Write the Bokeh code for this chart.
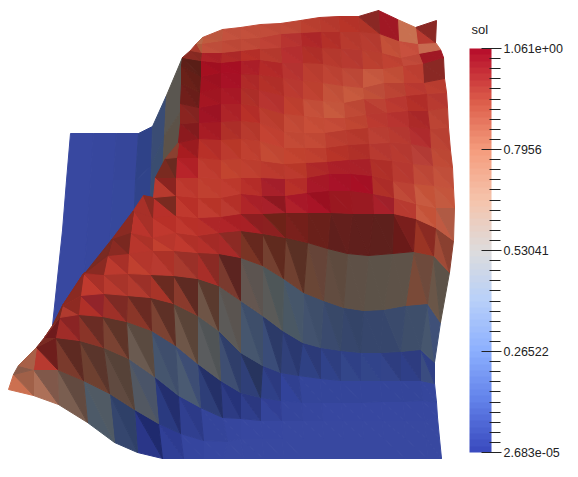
from bokeh.plotting import figure
from bokeh.models import ColumnDataSource, ColorBar, LinearColorMapper, FixedTicker, Label
from bokeh.embed import file_html
from bokeh.resources import INLINE

# ---- colour scale
SOL_MIN = 2.683e-05
SOL_MAX = 1.061
TICK_VALUES = [2.683e-05, 0.26522, 0.53041, 0.7956, 1.061]
TICK_LABELS = ["2.683e-05", "0.26522", "0.53041", "0.7956", "1.061e+00"]
MINOR_VALUES = [0.02652, 0.05305, 0.07957, 0.10609, 0.13261, 0.15913, 0.18566, 0.21218, 0.2387,
                0.29174, 0.31826, 0.34479, 0.37131, 0.39783, 0.42435, 0.45088, 0.4774, 0.50392,
                0.55693, 0.58345, 0.60997, 0.6365, 0.66302, 0.68954, 0.71606, 0.74259, 0.76911,
                0.82212, 0.84864, 0.87516, 0.90169, 0.92821, 0.95473, 0.98126, 1.00778, 1.0343]
CMAP_STOPS = ["#3b4cc0", "#6282ea", "#8db0fe", "#b8d0f9", "#dddcdc", "#f5c4ac", "#f59d7e", "#dc5d4a", "#b8102c"]

# ---- back wall (page pixels): columns left to right, rows top to bottom
WALL_X = [[70, 93, 116, 138, 152, 166, 182],
          [66, 90, 113, 135, 151, 164, 181],
          [62, 87, 110, 133, 150, 162, 178],
          [52, 80, 105, 125, 148, 160, 175]]
WALL_Y = [[133, 133, 133, 133, 126, 95, 57],
          [180, 180, 180, 180, 165, 135, 110],
          [230, 230, 230, 230, 200, 175, 160],
          [325, 325, 325, 300, 260, 260, 260]]
WALL_C = [["3848a0", "37479e", "36469a", "2f4288", "3a4c74", "5a5650"],
          ["3848a0", "37479e", "36489c", "30438a", "3a4d70", "5c5248"],
          ["3848a0", "37479e", "384a9c", "304384", "374a74", "6a4a3a"]]

# ---- surface, upper part by column k (right to left), rows r20 -> r8
TOP_X = [[436, 435, 440, 443, 444, 446, 447, 448, 450, 452, 453, 454, 453],
         [415, 417, 418, 422, 423, 426, 427, 429, 430, 432, 433, 435, 435],
         [397, 398, 400, 402, 403, 405, 407, 408, 410, 412, 413, 415, 415],
         [378, 379, 381, 382, 383, 384, 386, 387, 389, 391, 392, 393, 393],
         [358, 359, 361, 362, 362, 363, 365, 367, 368, 369, 371, 372, 373],
         [338, 339, 340, 341, 342, 343, 344, 345, 347, 348, 350, 350, 352],
         [319, 320, 321, 322, 322, 322, 323, 324, 325, 326, 328, 328, 330],
         [300, 300, 301, 302, 302, 302, 303, 303, 304, 305, 306, 306, 307],
         [280, 280, 280, 281, 282, 283, 283, 283, 283, 283, 284, 284, 285],
         [260, 259, 259, 259, 258, 258, 258, 259, 259, 260, 260, 261, 262],
         [240, 240, 240, 240, 240, 240, 240, 240, 240, 240, 240, 240, 240],
         [222, 221, 221, 220, 220, 220, 220, 220, 220, 220, 220, 220, 220],
         [202, 201, 201, 200, 200, 199, 198, 198, 198, 197, 197, 197, 197],
         [202, 196, 190, 182, 181, 181, 180, 180, 178, 176, 175, 175, 175],
         [None, None, None, None, None, None, None, None, 178, 165, 155, 153, 152],
         [None, None, None, None, None, None, None, None, None, None, None, 143, 133],
         [None, None, None, None, None, None, None, None, None, None, None, None, 133]]
TOP_Y = [[20, 42, 49, 57, 78, 92, 107, 127, 150, 167, 188, 207, 240],
         [27, 43, 53, 63, 82, 93, 110, 128, 147, 165, 185, 207, 227],
         [19, 40, 57, 65, 82, 95, 110, 126, 143, 163, 183, 203, 218],
         [10, 33, 52, 68, 82, 98, 112, 126, 142, 160, 180, 197, 213],
         [16, 31, 49, 68, 87, 98, 114, 127, 143, 158, 175, 193, 213],
         [16, 31, 48, 67, 85, 102, 117, 129, 144, 159, 173, 190, 213],
         [17, 31, 47, 63, 82, 100, 117, 132, 147, 161, 173, 190, 212],
         [20, 32, 45, 62, 80, 98, 115, 132, 147, 162, 177, 192, 212],
         [23, 33, 47, 62, 77, 95, 113, 131, 147, 163, 178, 195, 212],
         [24, 37, 48, 59, 74, 89, 106, 122, 140, 160, 177, 195, 213],
         [27, 38, 50, 60, 73, 87, 103, 120, 138, 158, 177, 193, 213],
         [29, 40, 52, 62, 72, 87, 103, 121, 139, 159, 178, 197, 216],
         [37, 43, 52, 60, 76, 92, 107, 122, 138, 157, 177, 197, 217],
         [37, 43, 50, 57, 65, 83, 103, 123, 142, 157, 177, 195, 215],
         [None, None, None, None, None, None, None, None, 142, 158, 177, 197, 217],
         [None, None, None, None, None, None, None, None, None, None, None, 195, 210],
         [None, None, None, None, None, None, None, None, None, None, None, None, 210]]

# ---- surface, lower part by row r0 -> r7, columns k right to left
LOW_X = [[441, 427, 405, 383, 363, 343, 323, 303, 283, 263, 243, 223, 203, 183, 162, 137, 114, 87, 58, 33, 8],
         [439, 426, 405, 383, 363, 343, 323, 303, 282, 262, 240, 227, 203, 180, 158, 134, 109, 83, 57, 33, 13],
         [437, 424, 404, 382, 362, 342, 322, 302, 281, 260, 240, 222, 200, 178, 154, 128, 103, 79, 55, 36, 18],
         [436, 422, 403, 381, 361, 341, 321, 301, 280, 260, 240, 220, 197, 175, 151, 126, 102, 78, 59, 44],
         [434, 420, 400, 380, 360, 340, 320, 298, 280, 262, 240, 218, 197, 173, 150, 127, 103, 80, 62, 52],
         [434, 420, 400, 380, 360, 340, 320, 302, 282, 262, 240, 218, 197, 173, 150, 127, 103, 83, 62],
         [440, 427, 405, 383, 363, 343, 323, 303, 283, 262, 240, 218, 197, 173, 152, 128, 107, 85, 85],
         [449, 433, 413, 392, 368, 347, 327, 307, 285, 262, 240, 218, 197, 175, 152, 130, 112, 112]]
LOW_Y = [[458, 458, 458, 458, 458, 458, 458, 458, 458, 458, 458, 458, 458, 458, 458, 452, 442, 422, 404, 395, 389],
         [438, 438, 438, 438, 438, 438, 438, 438, 438, 438, 438, 441, 440, 433, 423, 409, 393, 380, 369, 369, 374],
         [417, 420, 420, 420, 420, 420, 420, 420, 420, 420, 418, 417, 407, 395, 376, 358, 347, 340, 337, 347, 365],
         [402, 400, 401, 401, 402, 402, 402, 402, 400, 397, 392, 380, 363, 345, 330, 321, 316, 314, 317, 337],
         [383, 380, 380, 380, 380, 380, 378, 375, 372, 365, 352, 330, 315, 303, 297, 295, 293, 295, 305, 325],
         [362, 349, 351, 352, 352, 350, 347, 342, 330, 315, 300, 285, 278, 275, 274, 273, 274, 273, 305],
         [322, 303, 305, 309, 310, 307, 300, 292, 278, 265, 257, 253, 252, 250, 250, 253, 255, 272, 272],
         [272, 255, 251, 253, 255, 253, 248, 242, 237, 233, 230, 232, 235, 232, 237, 232, 238, 238]]

# ---- cell colours, band q between rows q and q+1, cell k; "lower-left/upper-right" triangle
A = "3848a0"
B = "3747a0"
C = "34459a"
CELLS = [
 [A]*11 + ["3747a0", "35459e", "303f96/2d3b90", "2a3688/1f2a6e", "35466e/2f4068", "4d5a68/505a64", "7a5e50/624a40", "ad7058/80584a", "cc7050/a06048"],
 [A]*8 + [B, B, "36469e", "34449a", "303f90/2c3a88", "2a3a80/232e6e", "525862/4a5468", "604a40/564238", "6e4030/5a352b", "7a3a2c/5e2a22", "b83a30/6e1e1c", "8a5a48/a86048"],
 [B]*6 + ["36469e", "35459c", "34449a/313f94", "2f3e8c/2b3880", "2d3b84/26337a", "2e3e78/243068", "4a5a72/3d4d74", "45556e/3f4e6c", "6a5a50/5a4a40", "7a4232/5e3428", "8a3428/6a2c24", "a02c28/8a2424", "7a2a22/6e1a1c"],
 ["35469c", C, C, C, C, C, C, "32439a/304090", "2f4088/2c3a80", "2f3f78/27345e", "3e4e72/2f3e6a", "5a5c5e/505456", "6e5648/5a4438", "7c4232/5e3026", "8a3628/6a2a22", "9e3028/7e2a24", "b03028/92242a", "b03a2e/8e2a22", "8a3028/7a2a20"],
 ["3a4c80/2f3f85", "2f3f88/2e3c80", "33448a/2e3d80", "33468a/31438a", "33468a/2f4086", "30428a/2e3e80", "2f4184/2c3a78", "30407a/2a3870", "3a4c78/2c3a68", "46566e/3e4e6a", "5c5a58/5a5450", "6e5446/5a3a2e", "8a3a2c/5e2a22", "a83428/6a2a20", "b23a2e/9c3028", "b83a2e/a8342a", "c03a2e/a83028", "a83028/8a2a22"],
 ["46566e/3f5078", "3e4e6a/3e4e6a", "36466c/3a4a6c", "36466c/36466c", "36466c/344468", "3a4a6e/384868", "42526e/3e4e6a", "4a5864/46566a", "5a5a58/4e5658", "645650/5c5450", "7a3a2e/5c2420", "a82e28/8a2a24", "a83a2e/9a3028", "b83a30/ac3228", "c0402f/b4362c", "bc3a2e/a83028", "a02a24/8a2a22", "8a2a22/8a2a22"],
 ["6a5648/5c5248", "7a4a38/6e4a3c", "5e5248/5e5248", "5c5248/5c5248", "5e5046/5e5046", "624c40/5e4a3e", "6a4636/664438", "704030/5a3024", "744030/602a1e", "7a3424/66281e", "a82a28/8c2a24", "b4302a/a42a26", "c0392e/b03028", "c2402f/b8362c", "b8362c/ac3228", "8a2a22/7a2820", "7a2a22/7a2a22"],
 ["a04a36/8a4030", "9a3424/8a2a22", "6a1a18/7a1e1c", "5e201c/5e201c", "601f1c/601f1c", "601f1c/641f1c", "6a201a/6a201a", "7a201c/741f1a", "8c2020/6e2218", "a82025/8c1e20", "b02428/a81f24", "b8302a/ae2628", "c0382e/b83028", "c0382e/b83028", "ba342c/a83028", "8a2a22/8a2a22"],
 ["c05a42/b05a44", "c85a40/c45238", "b83a30/b83a30", "a8202a/a0202a", "9a1a22/9a1a22", "9a1820/9a1820", "a81426/9a1020", "b0202a/a81828", "a8202a/8e1820", "b02528/a82028", "bb3a30/b43028", "c03c30/b83428", "c0392e/b83028", "b8302a/7a2a20", "a83028/8a2a22"],
 ["c45a40/c4553c", "c85a40/c45238", "c04a38/bc4234", "b03028/ac2c28", "a80f24/a41024", "a81228/a51226", "a81828/a61826", "b83028/b42c28", "a8202a/a41e2a", "b8302a/b42c28", "c03c30/bc382c", "c04030/be3c2e", "bf3a2f/bb362c", "b83a2e/8a2420", "a83028/8a2a22"],
 ["c4523c/c04e3a", "c04a38/bc4636", "b83a30/b63830", "b03028/ae2e28", "aa2028/a82028", "ac2028/aa1f28", "b02a28/ae2728", "bc3a2e/b83728", "bc3a2e/b8382c", "c04030/bc3d2e", "c2442f/be402e", "bf3c30/bb382c", "b8242a/b02026", "7a2a20/6a2a20"],
 ["c04a36/bc4734", "b84038/b23a34", "b83a30/b43830", "b83a30/b43730", "b03028/ae2e28", "b83428/b43228", "c0402f/bc3d2e", "c44430/c0412e", "c44a34/c04632", "c04030/bc3d2e", "bc3a2e/b83728", "b83028/b22d28", "a81c20/9a1b1f", "8a4030/8a4030"],
 ["bc4434/b84032", "b43030/ae2a2c", "b83a30/b43730", "bc4034/b83d32", "b83a2e/b4372b", "bc3e30/b83c2f", "c44a36/c04734", "c44a36/c04734", "c44232/c03f30", "b83a2e/b4372b", "b03028/ac2d28", "a81c24/a41a23", "8c1a1e/821b1d", "6a5048"],
 ["bc4434/b84132", "ac2a28/a82728", "b83430/b4312e", "bc3a30/b83830", "c04632/bc4331", "c64c38/c24836", "c84e38/c44b36", "c44a36/c04734", "bc3e30/b83b2c", "b83028/b32d28", "ae2428/ab2127", "a01424/9c1323", "8a2420/832320", "5c5248"],
 ["b83a30/b43730", "b43028/b02d28", "bc3a30/b83730", "b83a30/bc4234", "c04a36/bc4734", "c85a3e/c4553c", "c6503a/c24d38", "c0402f/bc3e2e", "b83430/b4312e", "b03028/ac2d28", "aa1a26/a71825", "a51622/a01521", "701e1a/6a1d19", "5a5048"],
 ["bc3e30/b83c2f", "bc3a30/b83830", "bc4434/b84132", "c05038/bc4c39", "c85a3e/c4573c", "c4523a/c04f38", "c04232/bc402f", "bc3a30/b83830", "b43028/b02e28", "b02a28/ac2828", "a81226/a61125", "a01220/9c1120", "6a2018/641e17", "5c3a2c"],
 ["8a2824/8a2824", "c04032/bc3e31", "c45038/c04d36", "c85a40/c4563e", "c04a38/bc4736", "bf4434/bb4132", "bc3e30/b83c2f", "b83430/b43230", "b42a28/b02828", "ae2028/ab1e28", "a80f24/a60f23", "a51020/a00f20", "5e1f18/5a1e17"],
 ["a01824/a01824", "c24a3a/be4738", "c04232/bc4031", "bc4030/b83e2f", "b83a30/b43830", "b83a2e/b4382d", "b23028/ae2e28", "b83030/b42e2f", "b83a2e/b4382d", "b83028/b42e28", "b02a28/ac2828", "ae2228/aa2027", "8a2a22/852921"],
 ["c86a50/c86a50", "c8503e/c54d3c", "c45038/c04d37", "b83c30/b43a2f", "b83a2e/b4382d", "b43028/b02e28", "b02828/ac2628", "b83430/b43230", "c04236/bc3f34", "c04a38/bc4736", "c04a38/bc4736", "c2503c/be4d3a", "a83a2c/b05a3c"],
 ["b83a30/8a2824", "c87050/c87050", "a01824/a01824", "b03428/8a2824", "b83428/b43228", "b83a2e/b4382d", "bc4030/b83e2f", "c04a38/bc4736", "c24c3a/be4938", "c4503c/c04d3a", "c4523e/c04f3c", "c05a3e/bc573f", "b8684a/b8684a"],
]


def build_palette(stops, n):
    rgb = [tuple(int(s[i:i + 2], 16) for i in (1, 3, 5)) for s in stops]
    out = []
    for i in range(n):
        t = i / (n - 1) * (len(rgb) - 1)
        a = min(int(t), len(rgb) - 2)
        f = t - a
        c = [round(rgb[a][j] + (rgb[a + 1][j] - rgb[a][j]) * f) for j in range(3)]
        out.append("#%02x%02x%02x" % tuple(c))
    return out


verts = {}
for k, (cx, cy) in enumerate(zip(TOP_X, TOP_Y)):
    for i, (x, y) in enumerate(zip(cx, cy)):
        if x is not None:
            verts[(20 - i, k)] = (x, y)
for r, (rx, ry) in enumerate(zip(LOW_X, LOW_Y)):
    for k, (x, y) in enumerate(zip(rx, ry)):
        verts[(r, k)] = (x, y)

xs, ys, cols = [], [], []
for i in range(len(WALL_C)):
    for j in range(len(WALL_C[i])):
        xs.append([WALL_X[i][j], WALL_X[i][j + 1], WALL_X[i + 1][j + 1], WALL_X[i + 1][j]])
        ys.append([WALL_Y[i][j], WALL_Y[i][j + 1], WALL_Y[i + 1][j + 1], WALL_Y[i + 1][j]])
        cols.append("#" + WALL_C[i][j])

for q, band in enumerate(CELLS):
    for k, cell in enumerate(band):
        a, _, b = cell.partition("/")
        b = b or a
        tl, bl, br, tr = (q + 1, k + 1), (q, k + 1), (q, k), (q + 1, k)
        for tri, c in (((tl, bl, br), a), ((tl, tr, br), b)):
            if all(v in verts for v in tri):
                xs.append([verts[v][0] for v in tri])
                ys.append([verts[v][1] for v in tri])
                cols.append("#" + c)

p = figure(width=578, height=477, x_range=(0, 578), y_range=(477, 0),
           toolbar_location=None, output_backend="svg", min_border=0,
           x_axis_location=None, y_axis_location=None)
p.grid.visible = False
p.outline_line_color = None
p.patches("x", "y", source=ColumnDataSource(dict(x=xs, y=ys, c=cols)),
          fill_color="c", line_color="c", line_width=1.0)

mapper = LinearColorMapper(palette=build_palette(CMAP_STOPS, 64), low=SOL_MIN, high=SOL_MAX)
ticker = FixedTicker(ticks=TICK_VALUES, minor_ticks=MINOR_VALUES)
cb = ColorBar(color_mapper=mapper, ticker=ticker,
              major_label_overrides=dict(zip(TICK_VALUES, TICK_LABELS)),
              width=22, height=404, location=(469, 25), padding=0, margin=0,
              major_tick_line_color="#222222", minor_tick_line_color="#222222",
              major_tick_in=10, major_tick_out=10, minor_tick_in=2, minor_tick_out=9,
              bar_line_color=None, background_fill_color=None, border_line_color=None,
              major_label_text_font="Liberation Sans", major_label_text_font_size="12.5px",
              major_label_text_color="#222222", label_standoff=2)
p.add_layout(cb)
p.add_layout(Label(x=471, y=29, text="sol", text_font="Liberation Sans", text_font_size="13px",
                   text_color="#222222", text_baseline="middle"))

open("out.html", "w").write(file_html(p, INLINE))
